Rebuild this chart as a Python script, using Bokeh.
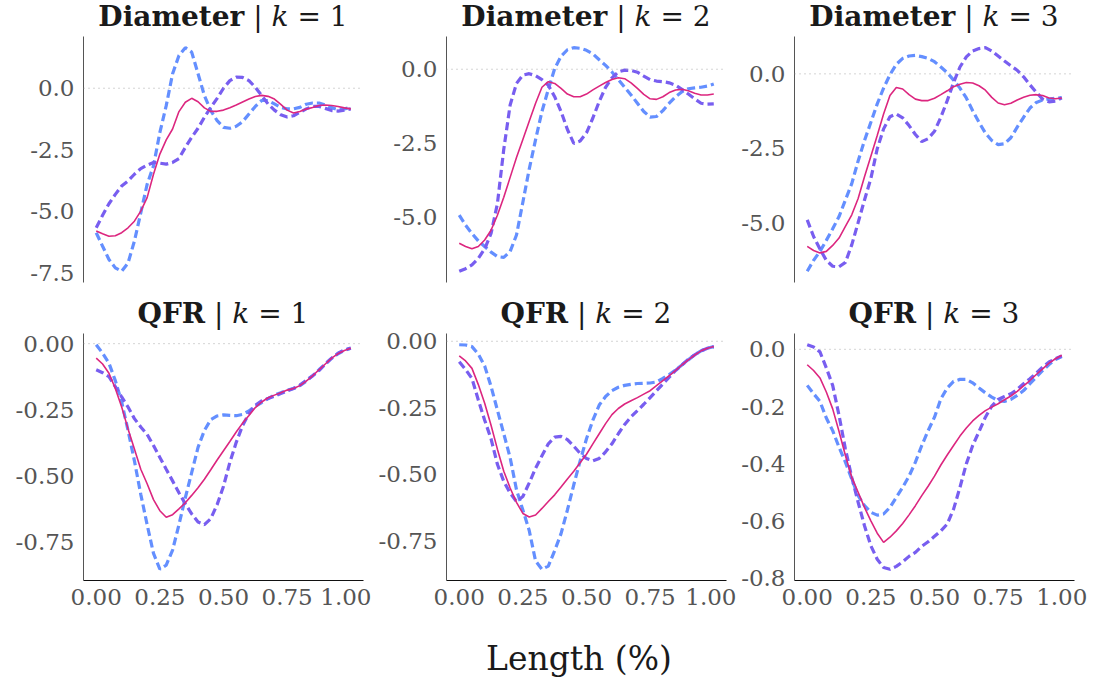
from bokeh.plotting import figure
from bokeh.models import Range1d, FixedTicker, Span, Div
from bokeh.layouts import column, row
from bokeh.embed import file_html
from bokeh.resources import INLINE

# ---------------- data ----------------
x = [0.000, 0.025, 0.050, 0.075, 0.100, 0.125, 0.150, 0.175, 0.200, 0.225,
     0.250, 0.275, 0.300, 0.325, 0.350, 0.375, 0.400, 0.425, 0.450, 0.475,
     0.500, 0.525, 0.550, 0.575, 0.600, 0.625, 0.650, 0.675, 0.700, 0.725,
     0.750, 0.775, 0.800, 0.825, 0.850, 0.875, 0.900, 0.925, 0.950, 0.975, 1.000]

diam_k1_mean = [-5.81, -5.92, -6.02, -6.00, -5.88, -5.68, -5.41, -5.00, -4.45, -3.50,
                -2.68, -2.10, -1.66, -0.95, -0.57, -0.41, -0.55, -0.80, -0.94, -0.94,
                -0.89, -0.79, -0.68, -0.56, -0.44, -0.34, -0.29, -0.33, -0.44, -0.66,
                -0.89, -1.01, -0.95, -0.85, -0.78, -0.70, -0.68, -0.70, -0.74, -0.80, -0.84]
diam_k1_blue = [-5.88, -6.43, -6.97, -7.31, -7.45, -7.11, -6.22, -5.07, -3.91, -3.16,
                -1.80, -0.71, 0.59, 1.33, 1.65, 1.47, 0.59, -0.30, -0.91, -1.32,
                -1.59, -1.63, -1.55, -1.36, -1.05, -0.74, -0.50, -0.50, -0.64, -0.78,
                -0.84, -0.84, -0.78, -0.65, -0.60, -0.60, -0.68, -0.79, -0.87, -0.84, -0.78]
diam_k1_purple = [-5.68, -5.17, -4.70, -4.32, -3.98, -3.77, -3.50, -3.27, -3.13, -3.02,
                  -3.05, -3.09, -3.02, -2.86, -2.41, -2.00, -1.63, -1.18, -0.78, -0.41,
                  0.00, 0.31, 0.45, 0.44, 0.31, 0.04, -0.30, -0.64, -0.89, -1.08,
                  -1.17, -1.12, -0.98, -0.84, -0.74, -0.74, -0.82, -0.91, -0.93, -0.89, -0.84]

diam_k2_mean = [-5.89, -6.00, -6.08, -6.00, -5.78, -5.45, -4.94, -4.33, -3.66, -2.99,
                -2.38, -1.76, -1.15, -0.61, -0.42, -0.48, -0.65, -0.84, -0.93, -0.93,
                -0.84, -0.70, -0.57, -0.45, -0.35, -0.29, -0.32, -0.46, -0.65, -0.85,
                -1.00, -1.02, -0.93, -0.79, -0.70, -0.68, -0.73, -0.81, -0.87, -0.87, -0.84]
diam_k2_blue = [-4.94, -5.28, -5.56, -5.81, -6.00, -6.19, -6.34, -6.37, -6.17, -5.61,
                -4.50, -3.38, -2.38, -1.43, -0.68, 0.02, 0.44, 0.66, 0.73, 0.71,
                0.64, 0.52, 0.32, 0.13, -0.09, -0.35, -0.61, -0.87, -1.15, -1.43,
                -1.62, -1.60, -1.40, -1.15, -0.93, -0.76, -0.66, -0.63, -0.61, -0.57, -0.50]
diam_k2_purple = [-6.84, -6.75, -6.62, -6.40, -6.08, -5.56, -4.55, -2.71, -1.21, -0.48,
                  -0.20, -0.15, -0.22, -0.35, -0.54, -0.93, -1.43, -2.04, -2.51, -2.43,
                  -2.15, -1.65, -1.09, -0.61, -0.29, -0.09, -0.03, -0.04, -0.10, -0.23,
                  -0.35, -0.40, -0.42, -0.46, -0.54, -0.68, -0.84, -1.00, -1.15, -1.18, -1.17]

diam_k3_mean = [-5.80, -5.94, -6.02, -5.97, -5.77, -5.52, -5.13, -4.74, -4.19, -3.46,
                -2.77, -2.07, -1.35, -0.73, -0.46, -0.51, -0.70, -0.85, -0.90, -0.90,
                -0.82, -0.70, -0.57, -0.43, -0.35, -0.29, -0.31, -0.40, -0.55, -0.79,
                -0.98, -1.04, -0.99, -0.88, -0.79, -0.72, -0.70, -0.73, -0.81, -0.84, -0.81]
diam_k3_blue = [-6.64, -6.27, -5.97, -5.60, -5.21, -4.80, -4.24, -3.69, -2.93, -2.24,
                -1.63, -1.01, -0.48, -0.03, 0.32, 0.52, 0.60, 0.62, 0.58, 0.52,
                0.41, 0.23, 0.04, -0.21, -0.48, -0.81, -1.24, -1.63, -1.99, -2.24,
                -2.38, -2.35, -2.15, -1.79, -1.46, -1.15, -0.96, -0.88, -0.85, -0.82, -0.80]
diam_k3_purple = [-4.91, -5.47, -5.89, -6.27, -6.47, -6.49, -6.34, -5.75, -5.00, -4.24,
                  -3.52, -2.52, -1.85, -1.44, -1.35, -1.48, -1.74, -2.04, -2.28, -2.18,
                  -1.93, -1.46, -0.90, -0.29, 0.23, 0.57, 0.77, 0.85, 0.88, 0.77,
                  0.60, 0.43, 0.27, 0.12, -0.10, -0.37, -0.62, -0.85, -0.94, -0.92, -0.81]

qfr_k1_mean = [-0.055, -0.077, -0.112, -0.170, -0.240, -0.323, -0.399, -0.476, -0.531, -0.591,
               -0.633, -0.658, -0.648, -0.626, -0.603, -0.575, -0.546, -0.514, -0.478, -0.441,
               -0.406, -0.371, -0.335, -0.301, -0.272, -0.242, -0.221, -0.205, -0.195, -0.186,
               -0.176, -0.170, -0.159, -0.142, -0.122, -0.099, -0.077, -0.055, -0.038, -0.026, -0.017]
qfr_k1_blue = [-0.004, -0.036, -0.074, -0.140, -0.221, -0.329, -0.444, -0.571, -0.686, -0.795,
               -0.855, -0.839, -0.782, -0.686, -0.584, -0.489, -0.393, -0.329, -0.288, -0.274,
               -0.270, -0.272, -0.273, -0.268, -0.255, -0.237, -0.223, -0.208, -0.195, -0.186,
               -0.176, -0.170, -0.159, -0.142, -0.122, -0.099, -0.077, -0.055, -0.038, -0.026, -0.017]
qfr_k1_purple = [-0.099, -0.110, -0.125, -0.163, -0.202, -0.240, -0.284, -0.316, -0.344, -0.386,
                 -0.431, -0.476, -0.520, -0.565, -0.607, -0.645, -0.676, -0.686, -0.663, -0.610,
                 -0.540, -0.450, -0.374, -0.310, -0.265, -0.233, -0.217, -0.208, -0.199, -0.189,
                 -0.179, -0.170, -0.157, -0.139, -0.122, -0.102, -0.077, -0.055, -0.036, -0.023, -0.017]

qfr_k2_mean = [-0.055, -0.074, -0.102, -0.163, -0.233, -0.316, -0.406, -0.489, -0.552, -0.606,
               -0.648, -0.661, -0.654, -0.629, -0.603, -0.578, -0.548, -0.518, -0.489, -0.457,
               -0.425, -0.386, -0.348, -0.310, -0.276, -0.253, -0.236, -0.224, -0.212, -0.199,
               -0.186, -0.167, -0.148, -0.129, -0.110, -0.089, -0.070, -0.052, -0.036, -0.026, -0.020]
qfr_k2_blue = [-0.013, -0.014, -0.020, -0.048, -0.093, -0.170, -0.259, -0.348, -0.438, -0.559,
               -0.635, -0.712, -0.827, -0.858, -0.846, -0.788, -0.724, -0.635, -0.540, -0.450,
               -0.367, -0.297, -0.240, -0.208, -0.186, -0.173, -0.166, -0.162, -0.159, -0.158,
               -0.157, -0.153, -0.140, -0.125, -0.108, -0.089, -0.070, -0.051, -0.036, -0.026, -0.020]
qfr_k2_purple = [-0.077, -0.106, -0.140, -0.221, -0.297, -0.367, -0.463, -0.527, -0.571, -0.603,
                 -0.584, -0.533, -0.478, -0.431, -0.386, -0.361, -0.358, -0.370, -0.395, -0.422,
                 -0.441, -0.450, -0.441, -0.416, -0.386, -0.348, -0.313, -0.284, -0.261, -0.237,
                 -0.212, -0.186, -0.161, -0.135, -0.110, -0.089, -0.068, -0.051, -0.036, -0.026, -0.020]

qfr_k3_mean = [-0.054, -0.074, -0.100, -0.149, -0.208, -0.287, -0.371, -0.447, -0.499, -0.552,
               -0.599, -0.642, -0.674, -0.656, -0.634, -0.608, -0.578, -0.546, -0.511, -0.478,
               -0.443, -0.404, -0.369, -0.336, -0.303, -0.275, -0.250, -0.231, -0.214, -0.202,
               -0.190, -0.176, -0.163, -0.147, -0.128, -0.109, -0.088, -0.068, -0.048, -0.033, -0.021]
qfr_k3_blue = [-0.126, -0.155, -0.182, -0.240, -0.284, -0.342, -0.394, -0.453, -0.511, -0.546,
               -0.569, -0.579, -0.575, -0.552, -0.517, -0.482, -0.443, -0.394, -0.336, -0.284,
               -0.237, -0.173, -0.135, -0.112, -0.105, -0.105, -0.117, -0.135, -0.152, -0.167,
               -0.179, -0.182, -0.175, -0.161, -0.144, -0.120, -0.097, -0.074, -0.053, -0.036, -0.025]
qfr_k3_purple = [0.016, 0.008, -0.009, -0.065, -0.126, -0.231, -0.348, -0.447, -0.534, -0.616,
                 -0.686, -0.733, -0.762, -0.768, -0.758, -0.742, -0.723, -0.709, -0.688, -0.672,
                 -0.653, -0.634, -0.610, -0.558, -0.482, -0.400, -0.336, -0.287, -0.237, -0.198,
                 -0.175, -0.165, -0.155, -0.140, -0.120, -0.103, -0.083, -0.062, -0.044, -0.033, -0.023]

x_ticks = [0.0, 0.25, 0.5, 0.75, 1.0]
x_tick_labels = ["0.00", "0.25", "0.50", "0.75", "1.00"]
diam_ticks_k1 = [0.0, -2.5, -5.0, -7.5]
diam_ticks = [0.0, -2.5, -5.0]
diam_tick_labels = {0.0: "0.0", -2.5: "-2.5", -5.0: "-5.0", -7.5: "-7.5"}
qfr_ticks = [0.0, -0.25, -0.5, -0.75]
qfr_tick_labels = {0.0: "0.00", -0.25: "-0.25", -0.5: "-0.50", -0.75: "-0.75"}
qfr_ticks_k3 = [0.0, -0.2, -0.4, -0.6, -0.8]
qfr_tick_labels_k3 = {0.0: "0.0", -0.2: "-0.2", -0.4: "-0.4", -0.6: "-0.6", -0.8: "-0.8"}

row_names = ["Diameter", "QFR"]
k_labels = ["= 1", "= 2", "= 3"]
x_label = "Length (%)"

# ---------------- style ----------------
C_MEAN = "#DC267F"
C_BLUE = "#648FFF"
C_PURPLE = "#785EF0"
SERIF = "DejaVu Serif"
FRAME_W = 280
TICK_SIZE = "23px"
BORDERS = [(83, 8), (75, 10), (58, 18)]


def bare(p):
    p.outline_line_color = None
    p.xgrid.visible = False
    p.ygrid.visible = False
    p.background_fill_color = "white"
    p.border_fill_color = None


def make_header(name, klab, borders, height, line_h):
    html = "<b>%s</b>&nbsp;|&nbsp;<i>k</i>&nbsp;%s" % (name, klab.replace(" ", "&nbsp;"))
    return Div(text=html, width=FRAME_W, height=height,
               margin=(0, borders[1], 0, borders[0]),
               styles={"font-family": SERIF, "font-size": "28px",
                       "line-height": "%dpx" % line_h, "color": "#1a1a1a",
                       "text-align": "center", "white-space": "nowrap",
                       "overflow": "visible"})


def make_panel(mean, blue, purple, yticks, ylabels, bottom, borders):
    lo = min(min(mean), min(blue), min(purple))
    hi = max(max(mean), max(blue), max(purple))
    pad = 0.05 * (hi - lo)
    p = figure(frame_width=FRAME_W, frame_height=247 if bottom else 246,
               x_range=Range1d(-0.05, 1.05), y_range=Range1d(lo - pad, hi + pad),
               output_backend="svg", toolbar_location=None,
               min_border_left=borders[0], min_border_right=borders[1],
               min_border_top=8 if bottom else 0,
               min_border_bottom=40 if bottom else 17)
    bare(p)

    p.add_layout(Span(location=0, dimension="width", line_color="#aaaaaa",
                      line_width=1, line_dash="1 4"))

    p.line(x, blue, line_color=C_BLUE, line_width=3.2, line_dash="8 4")
    p.line(x, purple, line_color=C_PURPLE, line_width=3.2, line_dash="8 4")
    p.line(x, mean, line_color=C_MEAN, line_width=1.6)

    ya = p.yaxis[0]
    ya.ticker = FixedTicker(ticks=yticks)
    ya.major_label_overrides = {t: ylabels[t] for t in yticks}
    ya.major_tick_line_color = None
    ya.minor_tick_line_color = None
    ya.major_tick_out = 0
    ya.major_label_standoff = 9
    ya.axis_line_color = "#555555"
    ya.major_label_text_font = SERIF
    ya.major_label_text_font_size = TICK_SIZE
    ya.major_label_text_color = "#555555"

    xa = p.xaxis[0]
    if bottom:
        xa.ticker = FixedTicker(ticks=x_ticks)
        xa.major_label_overrides = dict(zip(x_ticks, x_tick_labels))
        xa.major_tick_line_color = None
        xa.minor_tick_line_color = None
        xa.major_tick_out = 0
        xa.major_label_standoff = 8
        xa.axis_line_color = "#111111"
        xa.major_label_text_font = SERIF
        xa.major_label_text_font_size = TICK_SIZE
        xa.major_label_text_color = "#555555"
    else:
        xa.visible = False
    return p


h1 = [make_header(row_names[0], k_labels[i], BORDERS[i], 36, 34) for i in range(3)]
h2 = [make_header(row_names[1], k_labels[i], BORDERS[i], 26, 30) for i in range(3)]

p1 = make_panel(diam_k1_mean, diam_k1_blue, diam_k1_purple, diam_ticks_k1, diam_tick_labels, False, BORDERS[0])
p2 = make_panel(diam_k2_mean, diam_k2_blue, diam_k2_purple, diam_ticks, diam_tick_labels, False, BORDERS[1])
p3 = make_panel(diam_k3_mean, diam_k3_blue, diam_k3_purple, diam_ticks, diam_tick_labels, False, BORDERS[2])
p4 = make_panel(qfr_k1_mean, qfr_k1_blue, qfr_k1_purple, qfr_ticks, qfr_tick_labels, True, BORDERS[0])
p5 = make_panel(qfr_k2_mean, qfr_k2_blue, qfr_k2_purple, qfr_ticks, qfr_tick_labels, True, BORDERS[1])
p6 = make_panel(qfr_k3_mean, qfr_k3_blue, qfr_k3_purple, qfr_ticks_k3, qfr_tick_labels_k3, True, BORDERS[2])

footer = Div(text=x_label, width=400, height=60, margin=(0, 0, 0, 379),
             styles={"font-family": SERIF, "font-size": "33px", "line-height": "38px",
                     "padding-top": "20px", "color": "#1a1a1a", "text-align": "center",
                     "white-space": "nowrap"})

layout = column(row(*h1), row(p1, p2, p3), row(*h2), row(p4, p5, p6), footer)

with open("out.html", "w") as f:
    f.write(file_html(layout, INLINE))
